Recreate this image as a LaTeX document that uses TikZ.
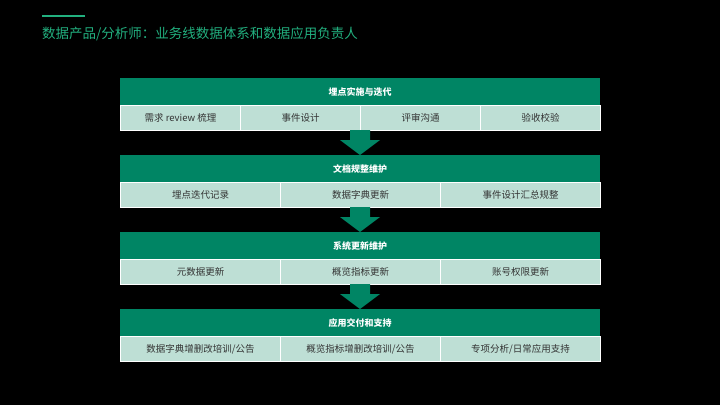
\documentclass[tikz,border=0pt]{standalone}
\usepackage{fontspec}
\setmainfont{Noto Sans CJK SC}
\begin{document}
\begin{tikzpicture}[x=1pt,y=-1pt,
 hdr/.style={fill=hd,draw=none,minimum width=480pt,minimum height=27pt,anchor=north west,inner sep=0pt,text=white,font=\fontsize{9}{10}\selectfont\bfseries},
 cell/.style={fill=lt,draw=white,line width=1pt,minimum height=25pt,anchor=north west,inner sep=0pt,text=black!80,font=\fontsize{9.5}{10}\selectfont},
 arr/.style={fill=hd,draw=none}]
\definecolor{hd}{HTML}{008564}
\definecolor{lt}{HTML}{BEDFD5}
\definecolor{tt}{HTML}{22B07F}
\fill[black] (0,0) rectangle (720,405);
\useasboundingbox (0,0) rectangle (720,405);
\draw[tt,line width=1.2pt] (42,16) -- (85,16);
\node[anchor=west,text=tt,font=\fontsize{13.5}{15}\selectfont,inner sep=0pt] (title) at (42,34) {数据产品/分析师：业务线数据体系和数据应用负责人};
\foreach \i/\h in {0/埋点实施与迭代,1/文档规整维护,2/系统更新维护,3/应用交付和支持}{
 \node[hdr] (h\i) at (120,78+77*\i) {\h};
}
\foreach \t [count=\k from 0] in {需求 review 梳理,事件设计,评审沟通,验收校验}{
 \node[cell,minimum width=120pt] (a\k) at (120+120*\k,105) {\t};
}
\foreach \t [count=\k from 0] in {埋点迭代记录,数据字典更新,事件设计汇总规整}{
 \node[cell,minimum width=160pt] (b\k) at (120+160*\k,182) {\t};
}
\foreach \t [count=\k from 0] in {元数据更新,概览指标更新,账号权限更新}{
 \node[cell,minimum width=160pt] (c\k) at (120+160*\k,259) {\t};
}
\foreach \t [count=\k from 0] in {数据字典增删改培训/公告,概览指标增删改培训/公告,专项分析/日常应用支持}{
 \node[cell,minimum width=160pt] (d\k) at (120+160*\k,336) {\t};
}
\foreach \j in {0,1,2}{
 \fill[arr] (350,130+77*\j) -- (370,130+77*\j) -- (370,140+77*\j) -- (380,140+77*\j) -- (360,155+77*\j) -- (340,140+77*\j) -- (350,140+77*\j) -- cycle;
}
\end{tikzpicture}
\end{document}
